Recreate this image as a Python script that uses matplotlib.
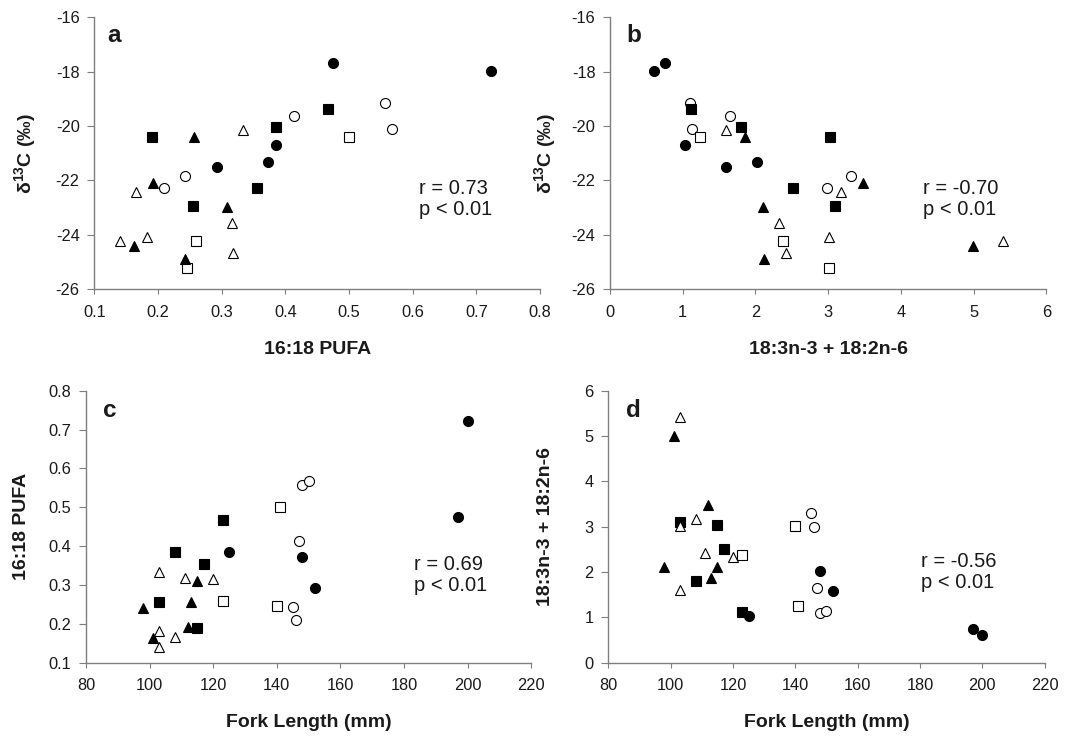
import matplotlib
matplotlib.use("Agg")
import matplotlib.pyplot as plt
from matplotlib.ticker import FormatStrFormatter

plt.rcParams['font.family'] = ['Liberation Sans', 'DejaVu Sans']
plt.rcParams['axes.unicode_minus'] = False

# ---- data: one entry per fish, grouped by marker type ----
# filled circles
fc_fl = [197, 200, 152, 125, 148]
fc_pufa = [0.475, 0.723, 0.292, 0.385, 0.373]
fc_c18 = [0.75, 0.61, 1.59, 1.03, 2.02]
fc_d13c = [-17.68, -17.99, -21.51, -20.69, -21.32]
# open circles
oc_fl = [147, 148, 150, 145, 146]
oc_pufa = [0.414, 0.557, 0.567, 0.243, 0.209]
oc_c18 = [1.65, 1.10, 1.13, 3.31, 2.99]
oc_d13c = [-19.62, -19.16, -20.10, -21.83, -22.26]
# filled squares
fs_fl = [123, 108, 117, 103, 115]
fs_pufa = [0.467, 0.385, 0.355, 0.255, 0.190]
fs_c18 = [1.11, 1.80, 2.51, 3.10, 3.03]
fs_d13c = [-19.36, -20.02, -22.26, -22.94, -20.42]
# open squares
os_fl = [141, 123, 140]
os_pufa = [0.500, 0.259, 0.246]
os_c18 = [1.24, 2.38, 3.01]
os_d13c = [-20.42, -24.21, -25.23]
# filled triangles
ft_fl = [101, 112, 115, 113, 98]
ft_pufa = [0.163, 0.192, 0.309, 0.257, 0.242]
ft_c18 = [4.99, 3.48, 2.11, 1.86, 2.12]
ft_d13c = [-24.40, -22.10, -22.99, -20.39, -24.90]
# open triangles
ot_fl = [103, 108, 120, 111, 103, 103]
ot_pufa = [0.334, 0.166, 0.316, 0.318, 0.140, 0.182]
ot_c18 = [1.60, 3.18, 2.33, 2.42, 5.41, 3.01]
ot_d13c = [-20.15, -22.41, -23.57, -24.68, -24.24, -24.09]

panel_letters = ['a', 'b', 'c', 'd']
stats_text = ['r = 0.73\np < 0.01', 'r = -0.70\np < 0.01',
              'r = 0.69\np < 0.01', 'r = -0.56\np < 0.01']

groups = [
    dict(fl=fc_fl, pufa=fc_pufa, c18=fc_c18, d13c=fc_d13c, m='o', fill=True),
    dict(fl=oc_fl, pufa=oc_pufa, c18=oc_c18, d13c=oc_d13c, m='o', fill=False),
    dict(fl=fs_fl, pufa=fs_pufa, c18=fs_c18, d13c=fs_d13c, m='s', fill=True),
    dict(fl=os_fl, pufa=os_pufa, c18=os_c18, d13c=os_d13c, m='s', fill=False),
    dict(fl=ft_fl, pufa=ft_pufa, c18=ft_c18, d13c=ft_d13c, m='^', fill=True),
    dict(fl=ot_fl, pufa=ot_pufa, c18=ot_c18, d13c=ot_d13c, m='^', fill=False),
]

fig = plt.figure(figsize=(10.74, 7.36), dpi=100)
ax_a = fig.add_axes([0.0878, 0.607, 0.415, 0.3696])
ax_b = fig.add_axes([0.568, 0.607, 0.4062, 0.3696])
ax_c = fig.add_axes([0.0801, 0.0996, 0.4146, 0.3696])
ax_d = fig.add_axes([0.5664, 0.0996, 0.4063, 0.3696])

panels = [
    (ax_a, 'pufa', 'd13c'),
    (ax_b, 'c18', 'd13c'),
    (ax_c, 'fl', 'pufa'),
    (ax_d, 'fl', 'c18'),
]

for ax, xk, yk in panels:
    for g in groups:
        ax.plot(g[xk], g[yk], linestyle='none', marker=g['m'], markersize=7.2,
                markerfacecolor='black' if g['fill'] else 'white',
                markeredgecolor='black', markeredgewidth=0.8, zorder=3)

spine_col = '#7f7f7f'
for ax in [ax_a, ax_b, ax_c, ax_d]:
    for s in ['top', 'right']:
        ax.spines[s].set_visible(False)
    for s in ['left', 'bottom']:
        ax.spines[s].set_color(spine_col)
        ax.spines[s].set_linewidth(1.0)
    ax.tick_params(axis='both', direction='out', color=spine_col, labelsize=11.8,
                   labelcolor='#1a1a1a')
    ax.tick_params(axis='x', length=3.5, pad=7.5)
    ax.tick_params(axis='y', length=5, pad=5.5)

# panel a
ax_a.set_xlim(0.1, 0.8)
ax_a.set_xticks([0.1, 0.2, 0.3, 0.4, 0.5, 0.6, 0.7, 0.8])
ax_a.xaxis.set_major_formatter(FormatStrFormatter('%.1f'))
ax_a.set_ylim(-26, -16)
ax_a.set_yticks([-26, -24, -22, -20, -18, -16])
# panel b
ax_b.set_xlim(0, 6)
ax_b.set_xticks([0, 1, 2, 3, 4, 5, 6])
ax_b.set_ylim(-26, -16)
ax_b.set_yticks([-26, -24, -22, -20, -18, -16])
# panel c
ax_c.set_xlim(80, 220)
ax_c.set_xticks(list(range(80, 221, 20)))
ax_c.set_ylim(0.1, 0.8)
ax_c.set_yticks([0.1, 0.2, 0.3, 0.4, 0.5, 0.6, 0.7, 0.8])
ax_c.yaxis.set_major_formatter(FormatStrFormatter('%.1f'))
# panel d
ax_d.set_xlim(80, 220)
ax_d.set_xticks(list(range(80, 221, 20)))
ax_d.set_ylim(0, 6)
ax_d.set_yticks([0, 1, 2, 3, 4, 5, 6])

lab_kw = dict(fontsize=14, fontweight='bold', color='#1a1a1a')
ylab_d13c = r'$\mathregular{\delta^{13}}$C (‰)'

ax_a.set_xlabel('16:18 PUFA', **lab_kw)
ax_a.set_ylabel(ylab_d13c, va='center', **lab_kw)
ax_b.set_xlabel('18:3n-3 + 18:2n-6', **lab_kw)
ax_b.set_ylabel(ylab_d13c, va='center', **lab_kw)
ax_c.set_xlabel('Fork Length (mm)', **lab_kw)
ax_c.set_ylabel('16:18 PUFA', va='center', **lab_kw)
ax_d.set_xlabel('Fork Length (mm)', **lab_kw)
ax_d.set_ylabel('18:3n-3 + 18:2n-6', va='center', **lab_kw)

ax_a.xaxis.set_label_coords(0.5, -0.19)
ax_b.xaxis.set_label_coords(0.5, -0.19)
ax_c.xaxis.set_label_coords(0.5, -0.19)
ax_d.xaxis.set_label_coords(0.5, -0.19)
ax_a.yaxis.set_label_coords(-0.155, 0.5)
ax_b.yaxis.set_label_coords(-0.149, 0.5)
ax_c.yaxis.set_label_coords(-0.144, 0.5)
ax_d.yaxis.set_label_coords(-0.145, 0.5)

letter_pos = [(0.03, 0.91), (0.037, 0.91), (0.037, 0.904), (0.04, 0.904)]
stat_pos = [(0.61, -21.95), (4.30, -21.95), (183.1, 0.378), (180.3, 2.44)]
for ax, letter, lp, st, sp in zip([ax_a, ax_b, ax_c, ax_d], panel_letters,
                                  letter_pos, stats_text, stat_pos):
    ax.text(lp[0], lp[1], letter, transform=ax.transAxes, fontsize=17.5,
            fontweight='bold', color='#1a1a1a', va='baseline', ha='left')
    ax.text(sp[0], sp[1], st, fontsize=14.5, color='#1a1a1a', va='top',
            ha='left', linespacing=1.15)

fig.savefig('out.png', dpi=100)
